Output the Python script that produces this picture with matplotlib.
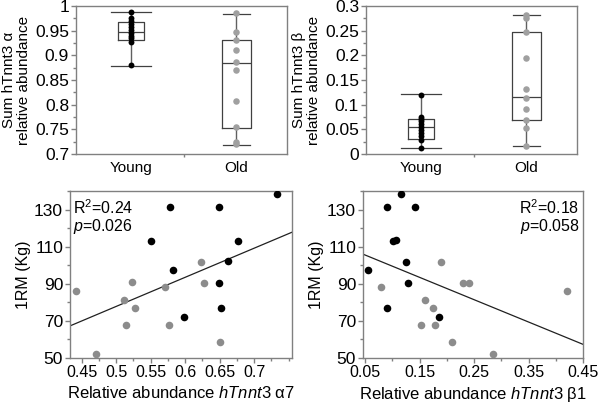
import matplotlib
matplotlib.use('Agg')
import matplotlib.pyplot as plt
import numpy as np
from matplotlib.ticker import MultipleLocator, FixedLocator, FormatStrFormatter

plt.rcParams['font.family'] = ['Liberation Sans', 'DejaVu Sans']
plt.rcParams['mathtext.fontset'] = 'custom'
plt.rcParams['mathtext.rm'] = 'Liberation Sans'
plt.rcParams['mathtext.it'] = 'Liberation Sans:italic'
plt.rcParams['font.size'] = 11

# ---------------- data ----------------
groups = ['Young', 'Old']

# Sum hTnnt3 alpha relative abundance
alpha_young = [0.988, 0.975, 0.969, 0.963, 0.957, 0.951, 0.946, 0.940, 0.935, 0.928, 0.880]
alpha_old = [0.985, 0.948, 0.932, 0.911, 0.887, 0.870, 0.807, 0.755, 0.725, 0.720]
alpha_young_box = dict(whislo=0.879, q1=0.931, med=0.947, q3=0.968, whishi=0.988)
alpha_old_box = dict(whislo=0.718, q1=0.753, med=0.884, q3=0.931, whishi=0.983)

# Sum hTnnt3 beta relative abundance
beta_young = [0.120, 0.076, 0.071, 0.066, 0.060, 0.054, 0.048, 0.042, 0.036, 0.028, 0.013]
beta_old = [0.282, 0.275, 0.247, 0.194, 0.131, 0.114, 0.091, 0.069, 0.053, 0.017]
beta_young_box = dict(whislo=0.013, q1=0.030, med=0.054, q3=0.070, whishi=0.121)
beta_old_box = dict(whislo=0.017, q1=0.069, med=0.116, q3=0.247, whishi=0.282)

# 1RM vs hTnnt3 alpha7
a7_young = [0.733, 0.578, 0.649, 0.550, 0.676, 0.582, 0.662, 0.649, 0.599, 0.652]
rm_young_a = [138.5, 131.6, 131.6, 113.2, 113.2, 97.4, 102.1, 90.2, 72.2, 76.9]
a7_old = [0.442, 0.470, 0.512, 0.514, 0.523, 0.527, 0.571, 0.577, 0.623, 0.627, 0.650]
rm_old_a = [86.2, 52.0, 81.4, 67.7, 90.7, 76.9, 88.0, 67.7, 101.9, 90.5, 58.5]
fit_a7 = dict(slope=156.8, intercept=-0.6)
stats_a7 = ['R$^2$=0.24', '$p$=0.026']

# 1RM vs hTnnt3 beta1
b1_young = [0.0545, 0.090, 0.090, 0.101, 0.106, 0.116, 0.125, 0.128, 0.141, 0.186]
rm_young_b = [97.4, 131.6, 76.9, 113.2, 113.6, 138.5, 101.9, 90.2, 131.6, 72.2]
b1_old = [0.079, 0.153, 0.160, 0.175, 0.178, 0.190, 0.209, 0.229, 0.241, 0.284, 0.420]
rm_old_b = [88.0, 67.7, 81.4, 76.9, 67.7, 101.9, 58.5, 90.5, 90.5, 52.0, 86.2]
fit_b1 = dict(slope=-120.3, intercept=111.5)
stats_b1 = ['R$^2$=0.18', '$p$=0.058']

# ---------------- style ----------------
SPINE = '#808080'
BOXC = '#404040'
YOUNG_C = 'black'
OLD_C_TOP = '#a0a0a0'
OLD_C = '#8c8c8c'
YTICK_FS = 12.5
XTICK_FS = 11.5

W, H = 600, 412
fig = plt.figure(figsize=(6.0, 4.12), dpi=100)

def px_axes(x0, y0, x1, y1):
    return fig.add_axes([x0 / W, 1 - y1 / H, (x1 - x0) / W, (y1 - y0) / H])

def style_axes(ax):
    for s in ax.spines.values():
        s.set_color(SPINE)
        s.set_linewidth(1.0)
    ax.tick_params(which='both', direction='out', color=SPINE, width=1.0,
                   top=False, right=False)
    ax.tick_params(axis='y', labelsize=YTICK_FS)
    ax.tick_params(axis='x', labelsize=XTICK_FS)
    ax.tick_params(which='major', length=3.5, pad=1.5)
    ax.tick_params(which='minor', length=2.2)

def box_panel(ax, young, old, ybox, obox, ylim, ymajor, yminor, ylabel):
    style_axes(ax)
    ax.bxp([ybox], positions=[1], widths=0.24, capwidths=[0.38], showfliers=False,
           manage_ticks=False,
           boxprops=dict(color=BOXC, lw=0.9), medianprops=dict(color=BOXC, lw=0.9),
           whiskerprops=dict(color='#606060', lw=1.0), capprops=dict(color=BOXC, lw=0.9))
    ax.bxp([obox], positions=[2], widths=0.27, capwidths=[0.26], showfliers=False,
           manage_ticks=False,
           boxprops=dict(color=BOXC, lw=0.9), medianprops=dict(color=BOXC, lw=0.9),
           whiskerprops=dict(color='#606060', lw=1.0), capprops=dict(color=BOXC, lw=0.9))
    ax.scatter(np.full(len(young), 1.0), young, s=18, color=YOUNG_C, zorder=3, linewidths=0)
    ax.scatter(np.full(len(old), 2.0), old, s=22, color=OLD_C_TOP, zorder=3, linewidths=0)
    ax.set_xlim(0.48, 2.48)
    ax.set_ylim(*ylim)
    ax.set_xticks([1, 2])
    ax.set_xticklabels(groups, fontsize=11)
    ax.tick_params(axis='x', which='major', length=0, pad=5)
    ax.xaxis.set_minor_locator(FixedLocator([1.5]))
    ax.yaxis.set_major_locator(MultipleLocator(ymajor))
    ax.yaxis.set_minor_locator(MultipleLocator(yminor))
    ax.yaxis.set_major_formatter(FormatStrFormatter('%g'))
    ax.set_ylabel(ylabel, fontsize=11, linespacing=1.05, labelpad=3)

ax1 = px_axes(76, 6, 287, 154)
box_panel(ax1, alpha_young, alpha_old, alpha_young_box, alpha_old_box,
          (0.7, 1.0), 0.05, 0.025, 'Sum hTnnt3 α\nrelative abundance')

ax2 = px_axes(366, 6, 577, 154)
box_panel(ax2, beta_young, beta_old, beta_young_box, beta_old_box,
          (0.0, 0.3), 0.05, 0.025, 'Sum hTnnt3 β\nrelative abundance')

def scatter_panel(ax, xy, xo, yy, yo, fit, stats, xlim, xmajor_ticks, xminor, xlabel, right_text):
    style_axes(ax)
    ax.scatter(xo, yo, s=30, color=OLD_C, zorder=3, linewidths=0)
    ax.scatter(xy, yy, s=30, color=YOUNG_C, zorder=3, linewidths=0)
    xs = np.array(xlim)
    ax.plot(xs, fit['slope'] * xs + fit['intercept'], color='#202020', lw=0.9, zorder=2)
    ax.set_xlim(*xlim)
    ax.set_ylim(50, 140)
    ax.set_xticks(xmajor_ticks)
    ax.xaxis.set_major_formatter(FormatStrFormatter('%g'))
    ax.xaxis.set_minor_locator(MultipleLocator(xminor) if not isinstance(xminor, list) else FixedLocator(xminor))
    ax.set_yticks([50, 70, 90, 110, 130])
    ax.yaxis.set_minor_locator(MultipleLocator(10))
    ax.set_ylabel('1RM (Kg)', fontsize=11.5, labelpad=2)
    ax.set_xlabel(xlabel, fontsize=12, labelpad=4)
    if right_text:
        ax.text(0.985, 0.90, stats[0], transform=ax.transAxes, ha='right', va='center', fontsize=11.5)
        ax.text(0.985, 0.785, stats[1], transform=ax.transAxes, ha='right', va='center', fontsize=11.5)
    else:
        ax.text(0.015, 0.90, stats[0], transform=ax.transAxes, ha='left', va='center', fontsize=11.5)
        ax.text(0.015, 0.785, stats[1], transform=ax.transAxes, ha='left', va='center', fontsize=11.5)

ax3 = px_axes(70, 191, 292, 358)
scatter_panel(ax3, a7_young, a7_old, rm_young_a, rm_old_a, fit_a7, stats_a7,
              (0.433, 0.755), [0.45, 0.5, 0.55, 0.6, 0.65, 0.7], 0.025,
              'Relative abundance $\\mathit{hTnnt3}$ α7', False)

ax4 = px_axes(363, 191, 583, 358)
scatter_panel(ax4, b1_young, b1_old, rm_young_b, rm_old_b, fit_b1, stats_b1,
              (0.046, 0.45), [0.05, 0.15, 0.25, 0.35, 0.45], [0.1, 0.2, 0.3, 0.4],
              'Relative abundance $\\mathit{hTnnt3}$ β1', True)

fig.savefig('out.png', dpi=100)
